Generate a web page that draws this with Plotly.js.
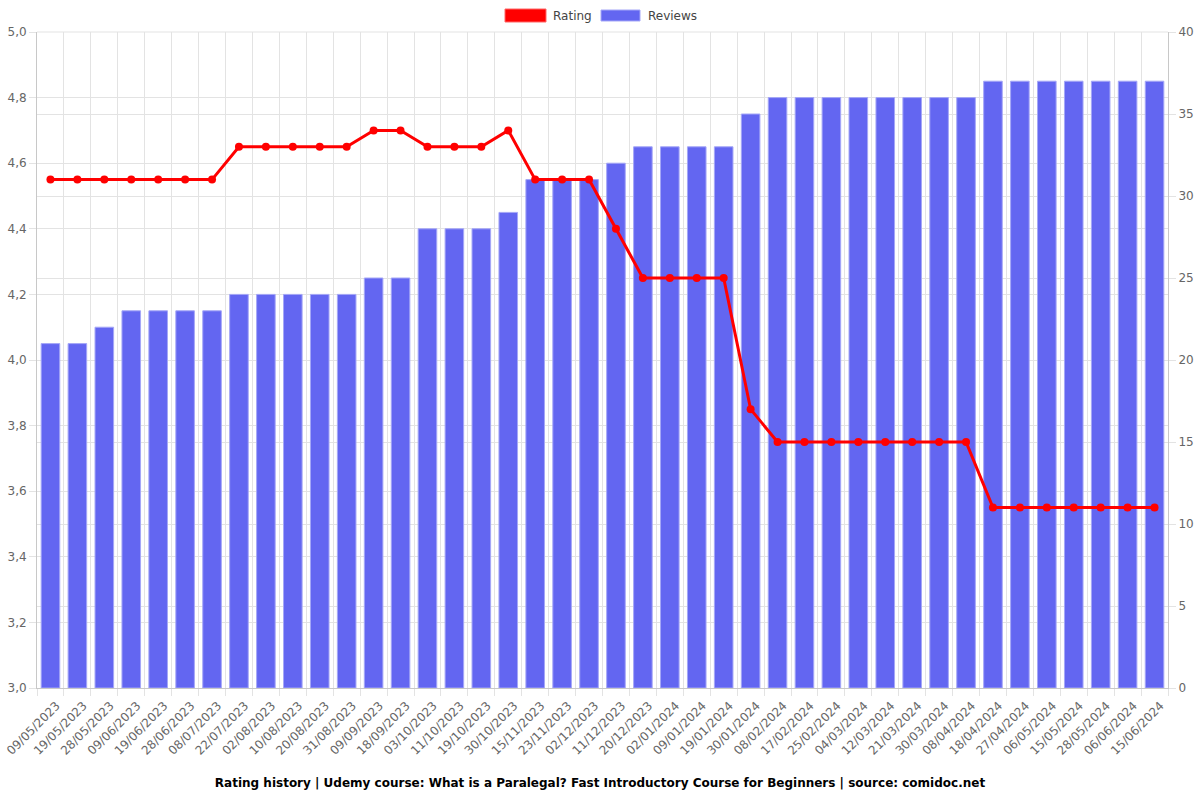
<!DOCTYPE html>
<html>
<head>
<meta charset="utf-8">
<script src="https://cdn.plot.ly/plotly-3.0.1.min.js"></script>
<style>
  html, body { margin: 0; padding: 0; background: #fff; }
  #chart { width: 1200px; height: 800px; }
</style>
</head>
<body>
<div id="chart"></div>
<script>
var dates = [
  "09/05/2023", "19/05/2023", "28/05/2023", "09/06/2023", "19/06/2023", "28/06/2023",
  "08/07/2023", "22/07/2023", "02/08/2023", "10/08/2023", "20/08/2023", "31/08/2023",
  "09/09/2023", "18/09/2023", "03/10/2023", "11/10/2023", "19/10/2023", "30/10/2023",
  "15/11/2023", "23/11/2023", "02/12/2023", "11/12/2023", "20/12/2023", "02/01/2024",
  "09/01/2024", "19/01/2024", "30/01/2024", "08/02/2024", "17/02/2024", "25/02/2024",
  "04/03/2024", "12/03/2024", "21/03/2024", "30/03/2024", "08/04/2024", "18/04/2024",
  "27/04/2024", "06/05/2024", "15/05/2024", "28/05/2024", "06/06/2024", "15/06/2024"
];
var rating = [
  4.55, 4.55, 4.55, 4.55, 4.55, 4.55, 4.55, 4.65, 4.65, 4.65, 4.65, 4.65,
  4.7, 4.7, 4.65, 4.65, 4.65, 4.7, 4.55, 4.55, 4.55, 4.4, 4.25, 4.25,
  4.25, 4.25, 3.85, 3.75, 3.75, 3.75, 3.75, 3.75, 3.75, 3.75, 3.75, 3.55,
  3.55, 3.55, 3.55, 3.55, 3.55, 3.55
];
var reviews = [
  21, 21, 22, 23, 23, 23, 23, 24, 24, 24, 24, 24,
  25, 25, 28, 28, 28, 29, 31, 31, 31, 32, 33, 33,
  33, 33, 35, 36, 36, 36, 36, 36, 36, 36, 36, 37,
  37, 37, 37, 37, 37, 37
];

var red = "#ff0000";
var blue = "#6366f1";
var gridColor = "#e3e3e3";
var tickColor = "#666";

// plot area in pixels, used to place the hand-drawn legend
var L = 37, R = 1168, T = 32, B = 688;
function px(x) { return (x - L) / (R - L); }
function py(y) { return (B - y) / (B - T); }

var data = [
  {
    type: "bar",
    name: "Reviews",
    x: dates,
    y: reviews,
    yaxis: "y",
    width: 0.69,
    marker: { color: blue, line: { color: "#a5a7f7", width: 1 } },
    hoverinfo: "x+y+name"
  },
  {
    type: "scatter",
    mode: "lines+markers",
    name: "Rating",
    x: dates,
    y: rating,
    yaxis: "y2",
    line: { color: red, width: 3 },
    marker: { color: red, size: 8 },
    hoverinfo: "x+y+name"
  }
];

var layout = {
  width: 1200,
  height: 800,
  margin: { l: L, r: 1200 - R, t: T, b: 800 - B },
  paper_bgcolor: "#fff",
  plot_bgcolor: "#fff",
  showlegend: false,
  separators: ",.",
  font: { family: "DejaVu Sans, sans-serif", size: 12, color: tickColor },
  barmode: "overlay",
  xaxis: {
    type: "category",
    tickson: "boundaries",
    showgrid: true,
    gridcolor: gridColor,
    ticks: "outside",
    ticklen: 7,
    tickcolor: gridColor,
    tickangle: -45,
    ticklabelshift: 6,
    ticklabelstandoff: 5,
    showline: true,
    linecolor: "#c8c8c8",
    tickfont: { size: 12, color: tickColor },
    range: [-0.5, dates.length - 0.5]
  },
  yaxis: {
    side: "right",
    range: [0, 40],
    dtick: 5,
    showgrid: true,
    gridcolor: gridColor,
    zeroline: false,
    ticks: "outside",
    ticklen: 7,
    tickcolor: gridColor,
    showline: true,
    linecolor: "#c8c8c8",
    tickfont: { size: 12, color: tickColor }
  },
  yaxis2: {
    side: "left",
    overlaying: "y",
    range: [3, 5],
    dtick: 0.2,
    tickformat: ".1f",
    showgrid: true,
    gridcolor: gridColor,
    zeroline: false,
    ticks: "outside",
    ticklen: 7,
    tickcolor: gridColor,
    showline: true,
    linecolor: "#c8c8c8",
    tickfont: { size: 12, color: tickColor }
  },
  title: {
    text: "<b>Rating history | Udemy course: What is a Paralegal? Fast Introductory Course for Beginners | source: comidoc.net</b>",
    font: { size: 12, color: "#000" },
    x: 0.5,
    xref: "container",
    y: (800 - 783) / 800,
    yref: "container",
    yanchor: "middle"
  },
  shapes: [
    { type: "line", xref: "paper", yref: "paper", x0: 0, x1: 1, y0: 1, y1: 1,
      line: { color: gridColor, width: 1 } },
    { type: "rect", xref: "paper", yref: "paper",
      x0: px(505), x1: px(546), y0: py(22), y1: py(9),
      fillcolor: red, line: { color: "#ff6666", width: 1 } },
    { type: "rect", xref: "paper", yref: "paper",
      x0: px(601), x1: px(640), y0: py(21), y1: py(10),
      fillcolor: blue, line: { color: "#a5a7f7", width: 1 } }
  ],
  annotations: [
    { xref: "paper", yref: "paper", x: px(551), y: py(16), xanchor: "left", yanchor: "middle",
      text: "Rating", showarrow: false, font: { size: 12, color: "#444" } },
    { xref: "paper", yref: "paper", x: px(646), y: py(16), xanchor: "left", yanchor: "middle",
      text: "Reviews", showarrow: false, font: { size: 12, color: "#444" } }
  ]
};

Plotly.newPlot("chart", data, layout, { displayModeBar: false, staticPlot: true });
</script>
</body>
</html>
